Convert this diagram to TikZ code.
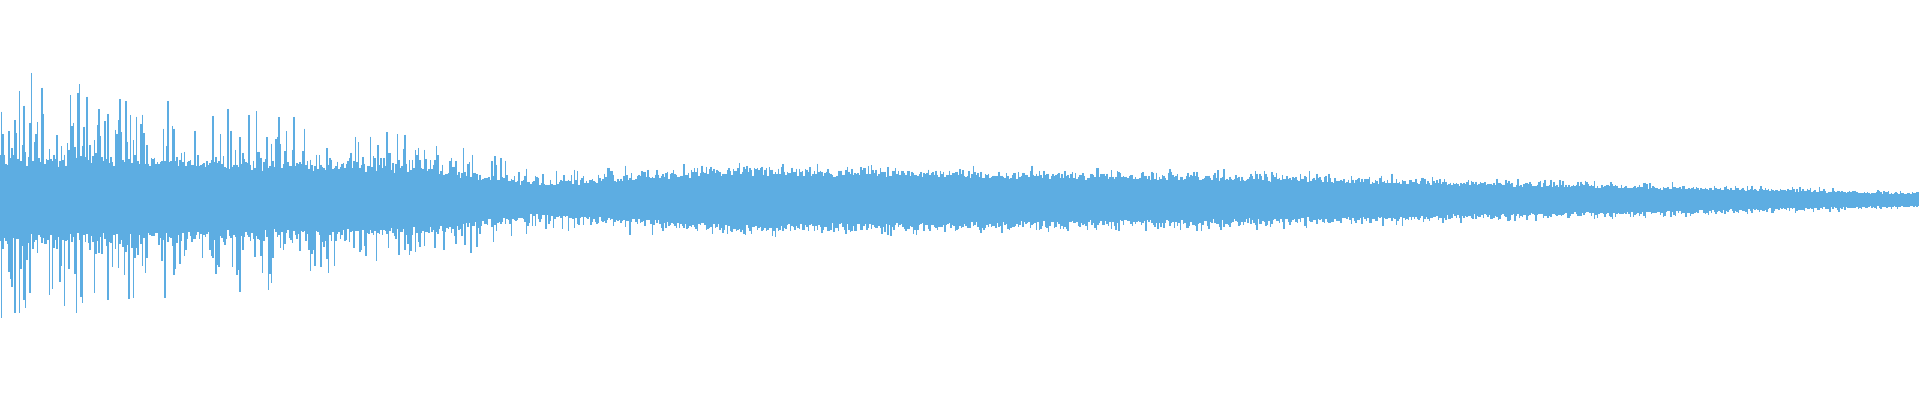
\documentclass[tikz,border=0pt]{standalone}
\definecolor{wave}{RGB}{93,173,226}
\begin{document}
\begin{tikzpicture}[x=1pt,y=1pt]
\useasboundingbox (0,-200) rectangle (1920,200);
\fill[white] (0,-200) rectangle (1920,200);
\pgfmathsetseed{7}
\foreach \i in {0,...,1279}{
  \pgfmathsetmacro{\x}{\i*1.5}
  \pgfmathsetmacro{\c}{\x<429 ? 46-\x/429*12 : (\x<539 ? 34-(\x-429)/110*17 : (\x<735 ? 17+(\x-539)/196*15 : (\x<1224 ? 32-(\x-735)/489*7 : 25-(\x-1224)/696*18)))}
  \pgfmathsetmacro{\p}{\x<429 ? 135-\x/429*68 : (\x<539 ? 67-(\x-429)/110*34 : (\x<735 ? 33+(\x-539)/196*6 : (\x<1224 ? 39-(\x-735)/489*6 : 33-(\x-1224)/696*23)))}
  \pgfmathsetmacro{\t}{\c*(0.75+0.25*rnd)+(\p-\c)*rnd^4}
  \pgfmathsetmacro{\b}{\c*(0.75+0.25*rnd)+(\p-\c)*rnd^4}
  \draw[wave,line width=1.1pt] (\x,\t) -- (\x,-\b);
}
\end{tikzpicture}
\end{document}
